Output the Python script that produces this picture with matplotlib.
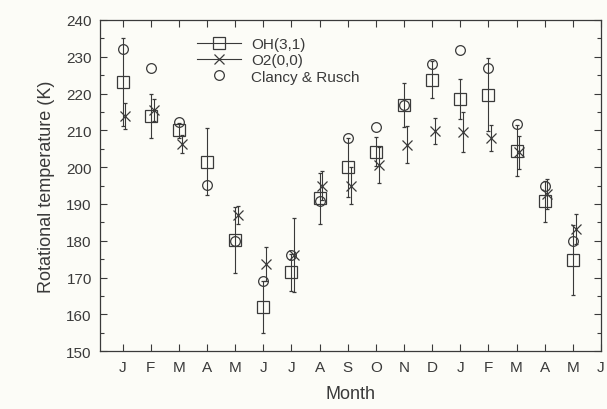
import matplotlib.pyplot as plt
from matplotlib.ticker import MultipleLocator

# Month index (1 = first January)
months = list(range(1, 18))
month_labels = ['J', 'F', 'M', 'A', 'M', 'J', 'J', 'A', 'S', 'O', 'N', 'D',
                'J', 'F', 'M', 'A', 'M', 'J']

# OH(3,1) rotational temperature and error
oh_temp = [223.2, 213.8, 210.0, 201.5, 180.3, 162.0, 171.4, 191.5, 200.0, 204.2,
           216.9, 223.8, 218.5, 219.7, 204.5, 190.7, 174.8]
oh_err = [12.0, 6.0, 2.0, 9.0, 9.0, 7.0, 5.0, 7.0, 8.0, 4.0,
          6.0, 5.0, 5.5, 10.0, 7.0, 5.5, 9.5]

# O2(0,0) rotational temperature and error
o2_temp = [213.9, 215.6, 206.3, None, 187.0, 173.7, 176.1, 195.0, 195.0, 200.6,
           206.1, 209.8, 209.5, 207.9, 204.0, 192.7, 183.2]
o2_err = [3.5, 3.0, 2.5, None, 2.5, 4.5, 10.0, 4.0, 5.0, 5.0,
          5.0, 3.5, 5.5, 3.5, 4.5, 4.0, 4.0]

# Clancy & Rusch
cr_temp = [232.0, 227.0, 212.2, 195.2, 180.0, 169.2, 176.0, 190.8, 208.0, 211.0,
           216.8, 227.9, 231.8, 226.9, 211.7, 194.8, 179.8]

ink = '#3a3a3a'
bg = '#fcfcf7'

plt.rcParams['font.family'] = ['Liberation Sans', 'DejaVu Sans']

fig = plt.figure(figsize=(6.07, 4.10), dpi=100, facecolor=bg)
ax = fig.add_axes([0.165, 0.141, 0.825, 0.808], facecolor=bg)

# O2 points are drawn slightly right of the month
o2_x = [m + 0.1 for m, t in zip(months, o2_temp) if t is not None]
o2_y = [t for t in o2_temp if t is not None]
o2_e = [e for e in o2_err if e is not None]

ax.errorbar(months, oh_temp, yerr=oh_err, fmt='s', mfc='none', mec=ink, ms=8,
            mew=0.9, ecolor=ink, elinewidth=0.8, capsize=1.5, capthick=0.8,
            color=ink, label='OH(3,1)')
ax.errorbar(o2_x, o2_y, yerr=o2_e, fmt='x', mec=ink, ms=7, mew=0.9,
            ecolor=ink, elinewidth=0.8, capsize=1.5, capthick=0.8,
            color=ink, label='O2(0,0)')
ax.plot(months, cr_temp, 'o', mfc='none', mec=ink, ms=7, mew=0.9,
        linestyle='none', label='Clancy & Rusch')

# legend entries show a sample line through the marker
h_oh, = ax.plot([], [], '-s', color=ink, mfc='none', ms=8, lw=0.8, mew=0.9)
h_o2, = ax.plot([], [], '-x', color=ink, ms=7, lw=0.8, mew=0.9)
h_cr, = ax.plot([], [], 'o', color=ink, mfc='none', ms=7, mew=0.9)
leg = ax.legend([h_oh, h_o2, h_cr], ['OH(3,1)', 'O2(0,0)', 'Clancy & Rusch'],
                loc='upper left', bbox_to_anchor=(0.165, 0.99), frameon=False,
                fontsize=11, handlelength=2.9, handletextpad=0.65,
                labelspacing=0.15, labelcolor=ink)

ax.set_xlim(0.2, 18)
ax.set_ylim(150, 240)
ax.set_xticks(range(1, 19))
ax.set_xticklabels(month_labels)
ax.yaxis.set_major_locator(MultipleLocator(10))
ax.yaxis.set_minor_locator(MultipleLocator(5))

ax.tick_params(which='both', direction='in', top=True, right=True,
               color=ink, labelcolor=ink, labelsize=11, width=0.8)
ax.tick_params(which='major', length=5, pad=6)
ax.tick_params(which='minor', length=3)
for s in ax.spines.values():
    s.set_color(ink)
    s.set_linewidth(0.9)

ax.set_xlabel('Month', fontsize=13, color=ink, labelpad=8)
ax.set_ylabel('Rotational temperature (K)', fontsize=13, color=ink, labelpad=8)

fig.savefig('out.png', dpi=100, facecolor=bg)
